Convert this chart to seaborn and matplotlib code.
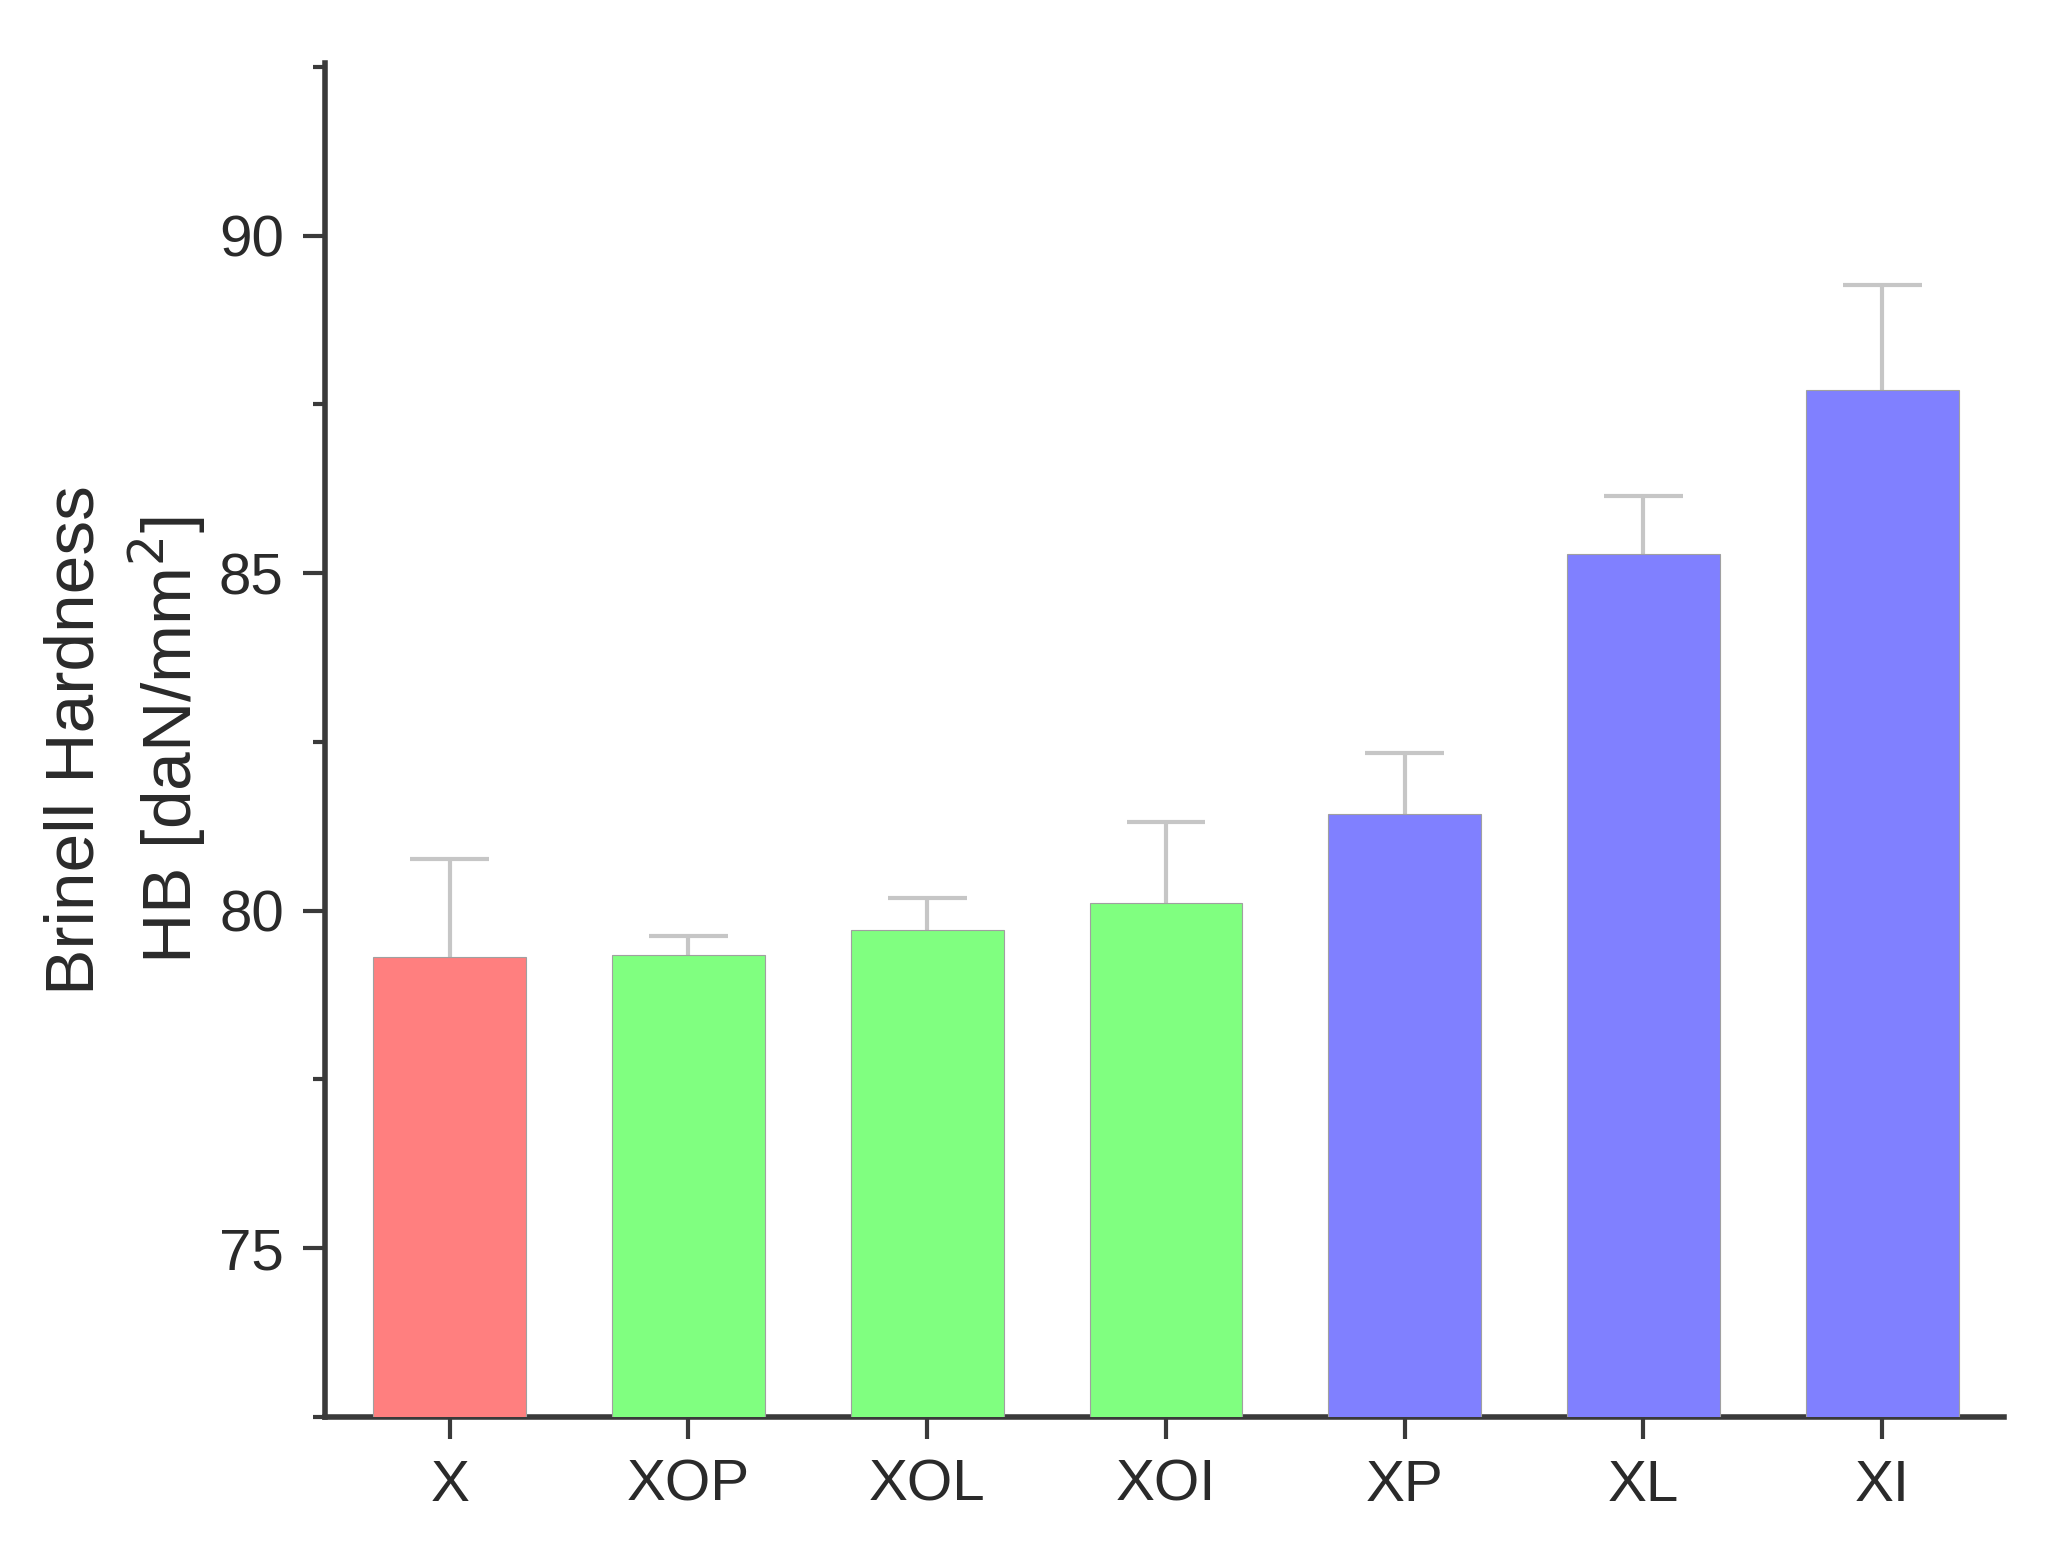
import matplotlib
matplotlib.use("Agg")
import matplotlib.pyplot as plt
from matplotlib.ticker import MultipleLocator
import seaborn as sns
import pandas as pd
import numpy as np

# values
samples = ["X", "XOP", "XOL", "XOI", "XP", "XL", "XI"]
hardness = [79.32, 79.34, 79.71, 80.12, 81.43, 85.29, 87.72]
err_upper = [1.45, 0.29, 0.48, 1.19, 0.91, 0.85, 1.55]
groups = ["ref", "O", "O", "O", "plain", "plain", "plain"]
group_colors = {"ref": "#FF7F7F", "O": "#80FF80", "plain": "#8080FF"}

df = pd.DataFrame({"sample": samples, "hb": hardness, "group": groups})

sns.set_style("ticks")
plt.rcParams["font.family"] = ["Liberation Sans", "DejaVu Sans"]

fig, ax = plt.subplots(figsize=(20.47, 15.47), dpi=100)
fig.subplots_adjust(left=0.159, right=0.979, top=0.959, bottom=0.084)

sns.barplot(data=df, x="sample", y="hb", hue="group", palette=group_colors,
            dodge=False, width=0.64, saturation=1, legend=False, ax=ax)
for p in ax.patches:
    p.set_zorder(3)
    p.set_edgecolor("#a0a0a0")
    p.set_linewidth(0.8)

# upper error bars only (stem + cap)
xpos = np.arange(len(samples))
tops = np.array(hardness) + np.array(err_upper)
ax.vlines(xpos, hardness, tops, color="#c6c6c6", lw=3, zorder=1)
ax.hlines(tops, xpos - 0.165, xpos + 0.165, color="#c6c6c6", lw=3, zorder=1)

ax.set_ylim(72.5, 92.55)
ax.set_xlim(-0.52, 6.51)
ax.set_yticks([75, 80, 85, 90])
ax.yaxis.set_minor_locator(MultipleLocator(2.5))

sns.despine(ax=ax)
for s in ["left", "bottom"]:
    ax.spines[s].set_linewidth(4)
    ax.spines[s].set_color("#3a3a3a")

ax.tick_params(axis="both", which="major", length=16, width=3, color="#3a3a3a",
               labelsize=42, labelcolor="#2a2a2a", pad=14)
ax.tick_params(axis="y", which="minor", length=9, width=3, color="#3a3a3a")

ax.set_xlabel("")
ax.set_ylabel("Brinell Hardness\nHB [daN/mm$^2$]", fontsize=50, color="#2a2a2a",
              labelpad=8, linespacing=1.3)

fig.savefig("out.png", dpi=100)
